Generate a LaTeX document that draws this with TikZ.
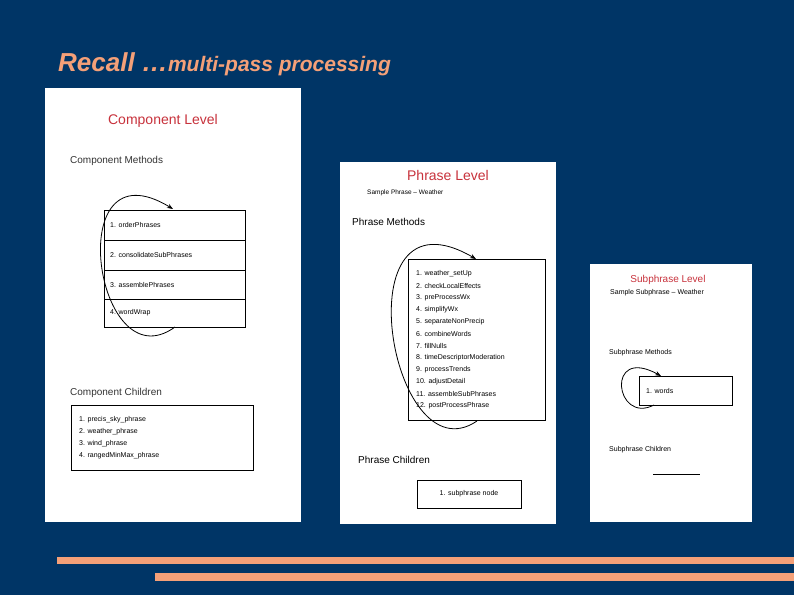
\documentclass[tikz,border=0pt]{standalone}
\usepackage{fontspec}
\setmainfont{Liberation Sans}
\usetikzlibrary{arrows.meta}
\definecolor{bg}{RGB}{0,53,102}
\definecolor{sal}{RGB}{244,160,120}
\definecolor{lred}{RGB}{200,50,60}
\begin{document}
\begin{tikzpicture}[x=1pt,y=-1pt,
  panel/.style={fill=white,draw=none},
  ttl/.style={text=lred,font=\fontsize{14}{16}\selectfont,inner sep=0},
  hd/.style={anchor=west,font=\fontsize{10}{12}\selectfont,inner sep=0,text=black!80},
  sm/.style={anchor=west,font=\fontsize{7}{8}\selectfont,inner sep=0},
  bx/.style={draw,line width=1pt},
  loop/.style={draw,line width=0.8pt,-{Stealth[length=6pt]}}]
\useasboundingbox (0,0) rectangle (794,595);
\fill[bg] (0,0) rectangle (794,595);
\node[anchor=west,text=sal,inner sep=0,font=\bfseries\itshape] (title) at (58,64)
  {\fontsize{26}{30}\selectfont Recall …\fontsize{21}{26}\selectfont multi-pass processing};
\fill[sal] (57,557) rectangle (794,564);
\fill[sal] (155,573) rectangle (794,581);
% panel 1
\fill[panel] (45,88) rectangle (301,522);
\node[ttl] (t1) at (163,121) {Component Level};
\node[hd] (h1) at (70,161) {Component Methods};
\foreach \i/\t/\ya/\yb in {1/1. orderPhrases/210/240, 2/2. consolidateSubPhrases/240/270, 3/3. assemblePhrases/270/299, 4/4. wordWrap/299/327}{
  \node[bx,minimum width=141pt,minimum height={\yb-\ya},anchor=north west,inner sep=0] (m\i) at (104,\ya) {};
  \node[sm] (mt\i) at (110,{(\ya+\yb)/2}) {\t};
}
\coordinate (a1s) at (175,327);
\coordinate (a1e) at (173,209);
\draw[loop] (a1s) .. controls (95,385) and (60,140) .. (a1e);
\node[hd] (c1) at (70,393) {Component Children};
\node[bx,minimum width=182pt,minimum height=65pt,anchor=north west,inner sep=0] (cb1) at (71,405) {};
\foreach \t [count=\k] in {1. precis\_sky\_phrase,2. weather\_phrase,3. wind\_phrase,4. rangedMinMax\_phrase}
  \node[sm] (cc\k) at (79,{408+12*\k}) {\t};
% panel 2
\fill[panel] (340,162) rectangle (556,524);
\node[ttl] (t2) at (448,175) {Phrase Level};
\node[sm,font=\fontsize{6.5}{8}\selectfont] (s2) at (367,193) {Sample Phrase -- Weather};
\node[hd,text=black] (h2) at (352,222) {Phrase Methods};
\node[bx,minimum width=137pt,minimum height=161pt,anchor=north west,inner sep=0] (pb) at (408,259) {};
\foreach \t [count=\k] in {1. weather\_setUp,2. checkLocalEffects,3. preProcessWx,4. simplifyWx,5. separateNonPrecip,6. combineWords,7. fillNulls,8. timeDescriptorModeration,9. processTrends,10. adjustDetail,11. assembleSubPhrases,12. postProcessPhrase}
  \node[sm] (p\k) at (416,{262+12*\k}) {\t};
\coordinate (a2s) at (477,421);
\coordinate (a2e) at (476,259);
\draw[loop] (a2s) .. controls (390,480) and (340,180) .. (a2e);
\node[hd,text=black] (c2) at (358,460) {Phrase Children};
\node[bx,minimum width=104pt,minimum height=28pt,anchor=north west,inner sep=0] (cb2) at (417,480) {};
\node[sm,anchor=center] (cb2t) at (469,494) {1. subphrase node};
% panel 3
\fill[panel] (590,264) rectangle (752,522);
\node[ttl,font=\fontsize{10}{12}\selectfont] (t3) at (668,280) {Subphrase Level};
\node[sm] (s3) at (610,293) {Sample Subphrase -- Weather};
\node[sm] (h3) at (609,353) {Subphrase Methods};
\node[bx,minimum width=93pt,minimum height=29pt,anchor=north west,inner sep=0] (sb) at (639,376) {};
\node[sm] (sbt) at (646,391) {1. words};
\coordinate (a3s) at (654,405);
\coordinate (a3e) at (661,376);
\draw[loop] (a3s) .. controls (615,425) and (605,345) .. (a3e);
\node[sm] (c3) at (609,450) {Subphrase Children};
\coordinate (l3a) at (653,474);
\coordinate (l3b) at (700,474);
\draw (l3a) -- (l3b);
\end{tikzpicture}
\end{document}
